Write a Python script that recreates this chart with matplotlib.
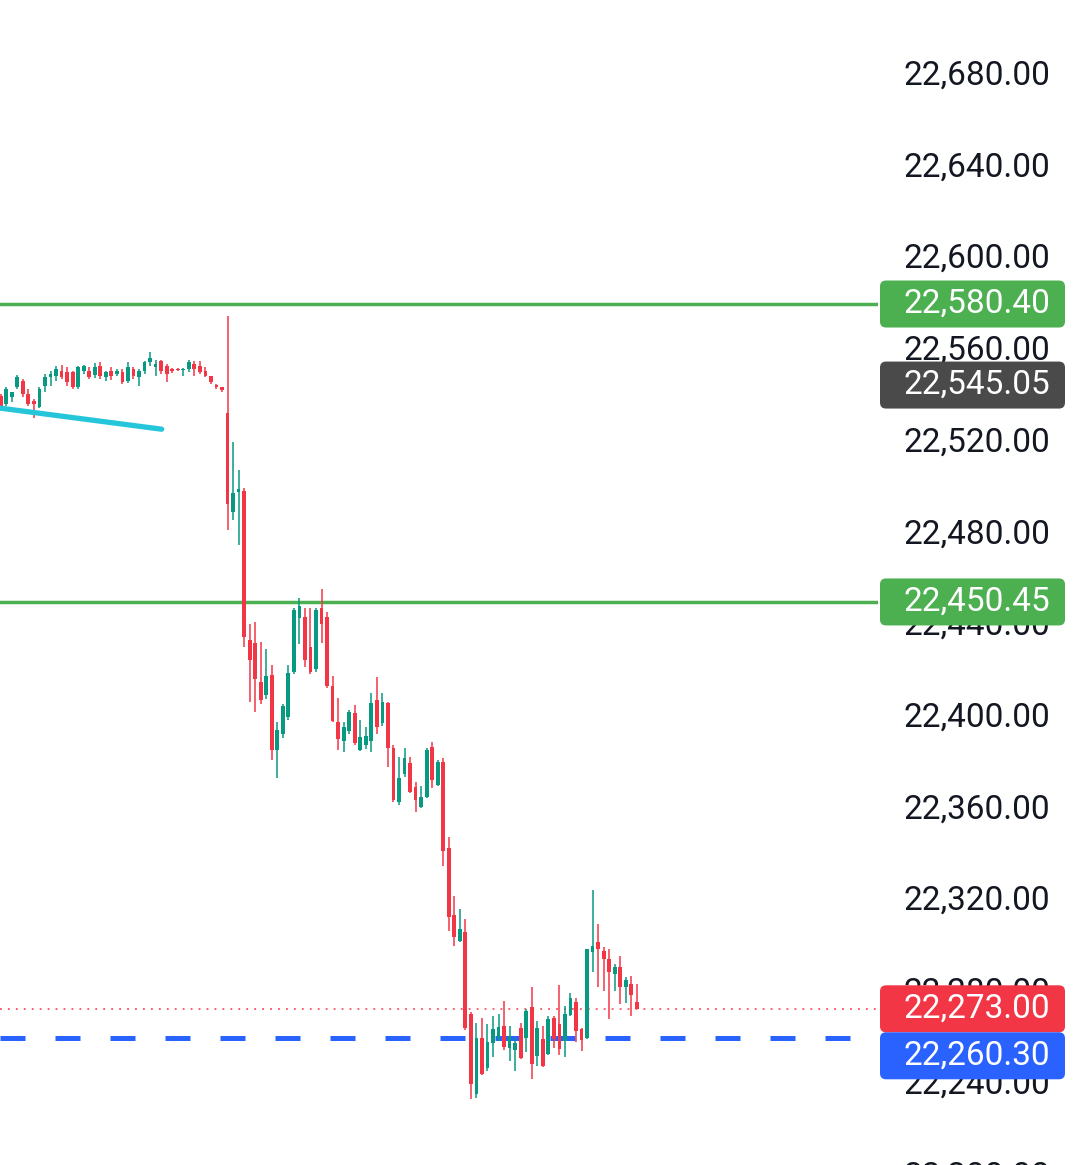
import numpy as np
import matplotlib
matplotlib.use("Agg")
import matplotlib.pyplot as plt
from matplotlib.patches import FancyBboxPatch
from matplotlib.transforms import IdentityTransform

plt.rcParams['font.family'] = ['Roboto', 'DejaVu Sans']

# candle data (open, high, low, close), one per bar
opens = [22540.4, 22537, 22540, 22544.1, 22547, 22541.1, 22538, 22535.3, 22544.8, 22548.5,
         22549.2, 22551.3, 22550.9, 22550.6, 22544.1, 22551, 22551.3, 22549.5, 22553.5, 22548.5,
         22551.3, 22550, 22550.9, 22547, 22552.1, 22548.5, 22551.3, 22554.9, 22552.8, 22555.6,
         22553.5, 22552, 22551.8, 22551.5, 22552.1, 22554.2, 22553.5, 22551.3, 22549, 22545,
         22544,
         22533, 22489.5, 22498.4, 22499, 22434, 22432.5, 22415.7, 22410, 22418.7, 22386,
         22393, 22400.4, 22420, 22443.5, 22444, 22431, 22421, 22448, 22444, 22414,
         22398, 22390, 22394, 22402, 22386, 22388, 22390, 22407.7, 22397.5, 22406.3,
         22386.6, 22363.3, 22375.6, 22380, 22369.8, 22361, 22365.4, 22387, 22370.5, 22380.8,
         22343, 22313.7, 22302.7, 22306.4, 22270.9, 22235.7, 22260.4, 22247.3, 22258, 22260.4,
         22265.6, 22256.1, 22255, 22264.8, 22260.4, 22273.9, 22252.4, 22259.7, 22253.2, 22269.2,
         22266.3, 22259, 22270.2, 22276, 22264, 22260.4, 22297.6, 22302, 22298.4, 22294.7,
         22288.2, 22291.1, 22282.6, 22284, 22276]
highs = [22541, 22544, 22542, 22549.5, 22547.7, 22543.3, 22539, 22544, 22550, 22551.3,
         22553.5, 22553.8, 22552.8, 22551.3, 22553.5, 22554, 22552.8, 22554.6, 22555.2, 22551.3,
         22552.8, 22552.1, 22552.1, 22554.9, 22552.8, 22552.1, 22555.6, 22559.4, 22555.9, 22555.9,
         22554.2, 22552.5, 22552.5, 22552.5, 22556, 22555.6, 22555.6, 22552.8, 22549.2, 22545.5,
         22544.3,
         22575, 22520, 22508, 22500, 22441, 22441.5, 22433, 22430, 22423, 22398,
         22406, 22423, 22448, 22452, 22448, 22448, 22448, 22456, 22446, 22418,
         22408.5, 22398, 22403.3, 22405.5, 22399, 22396, 22410.7, 22417.6, 22410.7, 22407,
         22388, 22383, 22386.6, 22383, 22372, 22370, 22386.6, 22389.5, 22381.5, 22382.2,
         22348, 22322.4, 22316.6, 22312.2, 22271.4, 22267, 22269.2, 22266.3, 22270, 22270.7,
         22276.5, 22265.6, 22260.4, 22267, 22272.9, 22282.6, 22267.7, 22265.6, 22269.9, 22269.9,
         22283.5, 22274.3, 22279.7, 22277.5, 22264.8, 22299.1, 22324.6, 22310, 22299.8, 22299.1,
         22292.6, 22296.2, 22286.7, 22287.4, 22284]
lows = [22535.5, 22536, 22537.5, 22543.3, 22539.7, 22536, 22530.6, 22535, 22541.9, 22544.8,
        22547, 22547.7, 22544.8, 22543.5, 22543.5, 22550, 22547.7, 22548, 22547.7, 22546.8,
        22547.4, 22549, 22545.5, 22546, 22547.7, 22544.8, 22550, 22553.5, 22549.2, 22549.9,
        22546.3, 22550.5, 22551, 22549.2, 22550.6, 22549.2, 22549.9, 22548.5, 22545.5, 22543.5,
        22542,
        22482, 22486, 22475.5, 22431, 22407, 22402.6, 22406, 22408, 22381.5, 22373.5,
        22391, 22399, 22419, 22432, 22422, 22419, 22420, 22432.5, 22413, 22398,
        22386, 22385, 22393, 22388, 22385.5, 22386.5, 22385, 22393, 22396.5, 22378.6,
        22363, 22362, 22374, 22367, 22359, 22360.5, 22365, 22369.5, 22370, 22335.5,
        22307, 22300.5, 22302, 22263.7, 22233.5, 22234.2, 22244, 22246, 22252, 22259,
        22255, 22250.2, 22245.9, 22251, 22254.3, 22242.2, 22248, 22247.5, 22253, 22256.1,
        22253, 22252, 22270, 22258.3, 22254.6, 22260, 22288.9, 22282.3, 22280.9, 22268.5,
        22280.9, 22275.1, 22275.5, 22269.9, 22273]
closes = [22536, 22543.3, 22542, 22548.5, 22541.1, 22536.8, 22536.8, 22543.3, 22548.5, 22550,
          22552.1, 22548.5, 22546.3, 22544.1, 22552.8, 22553.5, 22548.5, 22552.8, 22549.2, 22550.6,
          22549.2, 22551.3, 22546.3, 22552.8, 22549.2, 22551.3, 22554.9, 22556.8, 22554.2, 22551.3,
          22549.9, 22551, 22551.6, 22552, 22555, 22552.1, 22550.6, 22549.2, 22546.3, 22544.2,
          22542.8,
          22493, 22498, 22499.6, 22435, 22425, 22417, 22407.7, 22418, 22386, 22394.6,
          22405, 22419.4, 22447, 22448.5, 22425, 22420, 22447, 22441, 22414, 22398.5,
          22390.5, 22396, 22402.6, 22389, 22391.7, 22392, 22406.3, 22396, 22407, 22386.6,
          22364, 22373.5, 22382.2, 22367.7, 22364, 22365.4, 22385.8, 22373, 22380.5, 22342,
          22313, 22304.2, 22307.8, 22264.8, 22240, 22260.4, 22244.4, 22258.3, 22264, 22265,
          22256.5, 22261.2, 22258, 22251.7, 22272.1, 22248.8, 22264.8, 22248, 22268.5, 22259.7,
          22255.4, 22270.7, 22277.5, 22263.4, 22259.5, 22299.1, 22300.6, 22299.1, 22294.7, 22288.9,
          22291.1, 22282.3, 22285.6, 22278.8, 22273]

# horizontal levels
resistance_levels = [22580.40, 22450.45]
prev_close = 22545.05
last_price = 22273.00
avg_price = 22260.30

# trend line (bar index, price)
trend_x = [-0.13, 29.1]
trend_y = [22535.0, 22525.8]

y_ticks = list(range(22200, 22681, 40))

GREEN_C = '#089981'
RED_C = '#f23645'

W, H = 1080, 1165
fig = plt.figure(figsize=(W / 100, H / 100), dpi=100)
fig.patch.set_facecolor('white')
# axes spans a bit below the canvas so the bottom tick is partly visible
ax = fig.add_axes([0, -60 / H, 878 / W, (H + 60) / H])
ax.set_facecolor('white')
ax.set_xlim(-0.13, 158.6)
ax.set_ylim(22178.7, 22713.0)

idx = np.arange(len(opens))
o = np.array(opens)
c = np.array(closes)
colors = [GREEN_C if cc >= oo else RED_C for oo, cc in zip(o, c)]

# levels under the candles
for lv in resistance_levels:
    ax.axhline(lv, color='#4caf50', lw=2.5, zorder=1)
ax.axhline(last_price, color=RED_C, lw=1.1, linestyle=(0, (1.2, 4)), zorder=1)
ax.hlines(avg_price, -0.13, 153.6, color='#2962ff', lw=3.6,
          linestyles=(0, (5.0, 6.0)), zorder=1)

ax.vlines(idx, lows, highs, colors=colors, lw=1.1, zorder=3)
body_bottom = np.minimum(o, c)
body_h = np.maximum(np.abs(c - o), 0.6)
ax.bar(idx, body_h, bottom=body_bottom, width=0.68, color=colors, zorder=4)

ax.plot(trend_x, trend_y, color='#26c6da', lw=3.8, solid_capstyle='round', zorder=5)

# right price scale
ax.yaxis.tick_right()
ax.set_yticks(y_ticks)
ax.set_yticklabels([f'{t:,.2f}' for t in y_ticks])
ax.tick_params(axis='y', length=0, pad=123.8, labelsize=24, labelcolor='#131722')
for lbl in ax.get_yticklabels():
    lbl.set_horizontalalignment('right')
    lbl.set_verticalalignment('center')
ax.set_xticks([])
for s in ax.spines.values():
    s.set_visible(False)

# price tags
def y_pix(v):
    return ax.transData.transform((0, v))[1]

box_h = 47
tags = [
    (resistance_levels[0], '#4caf50', y_pix(resistance_levels[0])),
    (prev_close, '#4a4a4a', y_pix(prev_close)),
    (resistance_levels[1], '#4caf50', y_pix(resistance_levels[1])),
    (last_price, RED_C, y_pix(last_price)),
    (avg_price, '#2962ff', y_pix(last_price) - box_h),
]
for val, col, yc in tags:
    box = FancyBboxPatch((880, yc - box_h / 2), 185, box_h,
                         boxstyle='round,pad=0,rounding_size=6',
                         fc=col, ec='none', transform=IdentityTransform(), zorder=5)
    fig.patches.append(box)
    fig.text(1050 / W, yc / H, f'{val:,.2f}', ha='right', va='center',
             color='white', fontsize=24, zorder=6)

fig.savefig('out.png', dpi=100, facecolor='white')
